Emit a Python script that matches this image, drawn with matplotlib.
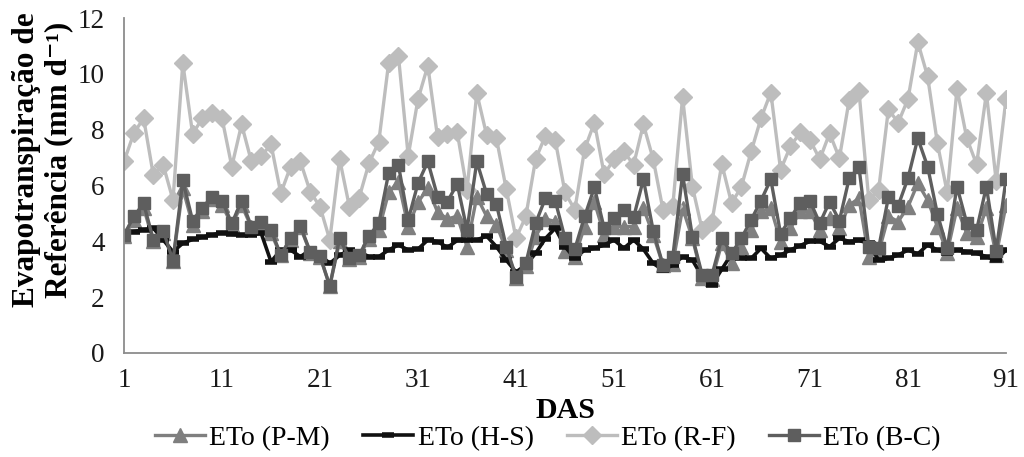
import matplotlib
matplotlib.use("Agg")
import matplotlib.pyplot as plt
import numpy as np

plt.rcParams['font.family'] = ['Liberation Serif', 'DejaVu Serif']

days = list(range(1, 92))
xticks = [1, 11, 21, 31, 41, 51, 61, 71, 81, 91]
yticks = [0, 2, 4, 6, 8, 10, 12]

eto_pm = [4.2, 4.75, 5.2, 4.0, 4.3, 3.3, 5.9, 4.6, 5.1, 5.5, 5.3, 4.6, 5.3, 4.5, 4.6, 4.3, 3.5, 4.05, 4.5, 3.6,
          3.45, 2.4, 4.0, 3.35, 3.45, 4.1, 4.4, 5.75, 6.14, 4.53, 5.4, 5.9, 5.05, 4.8, 4.9, 3.81, 5.6, 4.9, 4.6, 3.7,
          2.7, 3.1, 4.17, 4.8, 4.71, 3.65, 3.45, 4.53, 5.42, 4.23, 4.53, 4.53, 4.53, 5.19, 4.23, 3.15, 3.2, 5.19, 4.11, 2.7,
          2.65, 3.93, 3.21, 3.81, 4.41, 5.07, 5.2, 3.99, 4.47, 5.07, 5.07, 4.41, 4.83, 4.47, 5.3, 5.54, 3.45, 3.6, 4.89, 4.71,
          5.24, 6.08, 5.48, 4.53, 3.6, 5.19, 4.29, 4.15, 5.2, 3.5, 5.3]

eto_hs = [4.31, 4.35, 4.41, 4.47, 4.05, 3.63, 3.93, 4.07, 4.15, 4.23, 4.31, 4.25, 4.23, 4.23, 4.29, 3.27, 3.69, 3.69, 3.45, 3.69,
          3.51, 3.21, 3.5, 3.69, 3.63, 3.45, 3.45, 3.69, 3.87, 3.69, 3.72, 4.05, 3.99, 3.78, 4.03, 4.03, 4.05, 4.19, 3.81, 3.33,
          2.9, 3.15, 3.57, 4.1, 4.47, 3.81, 3.39, 3.69, 3.75, 3.87, 4.05, 3.75, 4.05, 3.72, 3.21, 2.97, 3.15, 3.45, 3.33, 2.73,
          2.44, 3.0, 3.55, 3.39, 3.39, 3.75, 3.39, 3.51, 3.69, 3.85, 4.0, 4.0, 3.81, 4.11, 3.99, 4.03, 3.93, 3.33, 3.39, 3.51,
          3.69, 3.55, 3.87, 3.69, 3.57, 3.69, 3.63, 3.57, 3.45, 3.33, 3.69]

eto_rf = [6.86, 7.87, 8.41, 6.36, 6.74, 5.48, 10.38, 7.85, 8.41, 8.59, 8.41, 6.68, 8.19, 6.86, 7.04, 7.48, 5.72, 6.68, 6.86, 5.78,
          5.24, 4.05, 6.95, 5.24, 5.57, 6.80, 7.57, 10.38, 10.65, 7.06, 9.09, 10.29, 7.72, 7.85, 7.91, 5.84, 9.31, 7.81, 7.69, 5.88,
          4.11, 4.89, 6.94, 7.78, 7.63, 5.75, 5.13, 7.30, 8.25, 6.40, 6.94, 7.22, 6.74, 8.19, 6.94, 5.13, 5.27, 9.16, 5.96, 4.41,
          4.71, 6.77, 5.36, 5.96, 7.22, 8.41, 9.33, 6.56, 7.40, 7.90, 7.63, 6.94, 7.87, 6.98, 9.07, 9.37, 5.48, 5.84, 8.73, 8.25,
          9.10, 11.13, 9.91, 7.51, 5.75, 9.46, 7.69, 6.76, 9.31, 6.16, 9.09]

eto_bc = [4.23, 4.89, 5.36, 4.05, 4.38, 3.31, 6.18, 4.74, 5.21, 5.60, 5.46, 4.64, 5.46, 4.53, 4.71, 4.41, 3.51, 4.11, 4.55, 3.63,
          3.48, 2.40, 4.11, 3.39, 3.51, 4.19, 4.65, 6.44, 6.74, 4.77, 6.08, 6.86, 5.60, 5.42, 6.06, 4.41, 6.86, 5.70, 5.34, 3.81,
          2.73, 3.21, 4.65, 5.54, 5.46, 4.11, 3.72, 4.89, 5.93, 4.47, 4.83, 5.13, 4.86, 6.22, 4.38, 3.15, 3.45, 6.40, 4.17, 2.80,
          2.80, 4.11, 3.57, 4.11, 4.77, 5.46, 6.22, 4.27, 4.83, 5.39, 5.44, 4.65, 5.42, 4.74, 6.26, 6.65, 3.81, 3.75, 5.58, 5.28,
          6.26, 7.69, 6.68, 4.98, 3.75, 5.96, 4.65, 4.41, 5.96, 3.67, 6.22]

labels = ['ETo (P-M)', 'ETo (H-S)', 'ETo (R-F)', 'ETo (B-C)']

fig = plt.figure(figsize=(10.24, 4.57), dpi=100)
ax = fig.add_axes([124/1024, 1 - 353/457, (1006-124)/1024, (353-18)/457])

ax.plot(days, eto_pm, color='#7f7f7f', lw=2.4, marker='^', ms=10, mec='#7f7f7f', mfc='#7f7f7f', label=labels[0])
ax.plot(days, eto_hs, color='#111111', lw=2.6, marker='_', ms=9, mew=4, mec='#111111', label=labels[1])
ax.plot(days, eto_rf, color='#bdbdbd', lw=2.4, marker='D', ms=9, mec='#bdbdbd', mfc='#bdbdbd', label=labels[2])
ax.plot(days, eto_bc, color='#5e5e5e', lw=2.4, marker='s', ms=9, mec='#5e5e5e', mfc='#5e5e5e', label=labels[3])

ax.set_xlim(1, 91)
ax.set_ylim(0, 12)
ax.set_xticks(xticks)
ax.set_yticks(yticks)
ax.tick_params(axis='both', length=0, labelsize=19.5, colors='#1a1a1a')
ax.tick_params(axis='x', pad=11)
ax.tick_params(axis='y', pad=14)
for s in ['top', 'right']:
    ax.spines[s].set_visible(False)
for s in ['left', 'bottom']:
    ax.spines[s].set_color('#8c8c8c')
    ax.spines[s].set_linewidth(1.3)

fig.text(565/1024, 1 - 410/457, 'DAS', ha='center', va='center', fontsize=21.5, fontweight='bold')
fig.text(43/1024, 1 - 160/457, 'Evapotranspiração de\nReferência (mm d⁻¹)', ha='center', va='center',
         rotation=90, fontsize=22.5, fontweight='bold', linespacing=1.15)

leg = fig.legend(loc='center', bbox_to_anchor=(548/1024, 1 - 438/457), ncol=4, frameon=False,
                 fontsize=20, handlelength=1.8, handletextpad=0.15, columnspacing=1.2)

fig.savefig('out.png', dpi=100)
